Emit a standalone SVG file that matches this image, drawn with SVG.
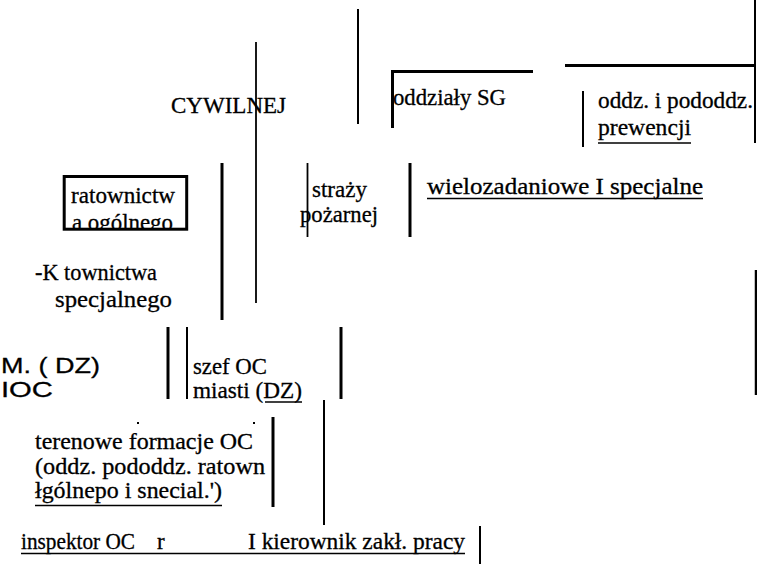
<svg xmlns="http://www.w3.org/2000/svg" width="757" height="564" viewBox="0 0 757 564">
<style>
.t{font-family:'Liberation Serif','Times New Roman',serif;font-size:23px;fill:#000;stroke:#000;stroke-width:0.3}
.s{font-family:'Liberation Sans',Arial,sans-serif;font-size:22.5px;fill:#000;stroke:#000;stroke-width:0.3}
.ln{stroke:#000;fill:none}
.u{stroke:#000;stroke-width:1.5}
</style>
<defs>
<clipPath id="boxclip"><rect x="65" y="178" width="122" height="50"/></clipPath>
</defs>
<rect width="757" height="564" fill="#fff"/>
<g id="connectors">
<line class="ln" stroke-width="2" x1="358" y1="9" x2="358" y2="124"/>
<line class="ln" stroke-width="1.8" x1="256" y1="42" x2="256" y2="303"/>
<line class="ln" stroke-width="3" x1="222" y1="163" x2="222" y2="320"/>
<line class="ln" stroke-width="1.8" x1="307.5" y1="163" x2="307.5" y2="237"/>
<line class="ln" stroke-width="2" x1="755" y1="0" x2="755" y2="143"/>
<line class="ln" stroke-width="3" x1="565" y1="65.5" x2="756" y2="65.5"/>
<polyline class="ln" stroke-width="3" points="392.5,128 392.5,71.5 533,71.5"/>
<line class="ln" stroke-width="2" x1="583" y1="91" x2="583" y2="147"/>
<line class="ln" stroke-width="3" x1="410" y1="163" x2="410" y2="237"/>
<line class="ln" stroke-width="3" x1="168" y1="327" x2="168" y2="399"/>
<line class="ln" stroke-width="2" x1="187" y1="327" x2="187" y2="399"/>
<line class="ln" stroke-width="3" x1="341" y1="327" x2="341" y2="399"/>
<line class="ln" stroke-width="2" x1="324" y1="400" x2="324" y2="525"/>
<line class="ln" stroke-width="3" x1="273" y1="417" x2="273" y2="507"/>
<line class="ln" stroke-width="2" x1="480" y1="526" x2="480" y2="564"/>
<line class="ln" stroke-width="2.5" x1="756" y1="270" x2="756" y2="395"/>
<rect x="137" y="422" width="2" height="2" fill="#000"/>
<rect x="253" y="422" width="2" height="2" fill="#000"/>
</g>
<g id="n-cywilnej"><text class="t" x="171" y="113" textLength="115" lengthAdjust="spacingAndGlyphs">CYWILNEJ</text></g>
<g id="n-oddzialy-sg"><text class="t" x="393" y="105" textLength="113" lengthAdjust="spacingAndGlyphs">oddziały SG</text></g>
<g id="n-prewencji">
<text class="t" x="598" y="108" textLength="155" lengthAdjust="spacingAndGlyphs">oddz. i pododdz.</text>
<text class="t" x="598" y="135" textLength="93" lengthAdjust="spacingAndGlyphs">prewencji</text>
<line class="u" x1="598" y1="143" x2="691" y2="143"/>
</g>
<g id="n-ratownictwa">
<g clip-path="url(#boxclip)">
<text class="t" x="71" y="203" textLength="104" lengthAdjust="spacingAndGlyphs">ratownictw</text>
<text class="t" x="72" y="229.5" textLength="101" lengthAdjust="spacingAndGlyphs">a ogólnego</text>
</g>
<rect x="64.2" y="176.5" width="122.5" height="52.7" fill="none" stroke="#000" stroke-width="3"/>
</g>
<g id="n-strazy">
<text class="t" x="312" y="197" textLength="55" lengthAdjust="spacingAndGlyphs">straży</text>
<text class="t" x="300" y="222" textLength="78" lengthAdjust="spacingAndGlyphs">pożarnej</text>
</g>
<g id="n-wielozadaniowe">
<text class="t" x="427" y="194" textLength="276" lengthAdjust="spacingAndGlyphs">wielozadaniowe I specjalne</text>
<line class="u" x1="427" y1="198.5" x2="703" y2="198.5"/>
</g>
<g id="n-specjalnego">
<text class="t" x="35" y="280" textLength="122" lengthAdjust="spacingAndGlyphs">-K townictwa</text>
<text class="t" x="55" y="307" textLength="117" lengthAdjust="spacingAndGlyphs">specjalnego</text>
</g>
<g id="n-m-ioc">
<text class="s" x="1" y="373" textLength="99" lengthAdjust="spacingAndGlyphs">M. ( DZ)</text>
<text class="s" x="1" y="397" textLength="52" lengthAdjust="spacingAndGlyphs">IOC</text>
</g>
<g id="n-szef-oc">
<text class="t" x="193" y="374" textLength="74" lengthAdjust="spacingAndGlyphs">szef OC</text>
<text class="t" x="193" y="397.5" textLength="109" lengthAdjust="spacingAndGlyphs">miasti (DZ)</text>
<line class="u" x1="265" y1="402" x2="302" y2="402"/>
</g>
<g id="n-terenowe">
<text class="t" x="35" y="449" textLength="218" lengthAdjust="spacingAndGlyphs">terenowe formacje OC</text>
<text class="t" x="35" y="474" textLength="230" lengthAdjust="spacingAndGlyphs">(oddz. pododdz. ratown</text>
<text class="t" x="35" y="497.5" textLength="187" lengthAdjust="spacingAndGlyphs">łgólnepo i snecial.')</text>
<line class="u" x1="35" y1="505.5" x2="222" y2="505.5"/>
</g>
<g id="n-inspektor">
<text class="t" y="548.5"><tspan x="21" textLength="114" lengthAdjust="spacingAndGlyphs">inspektor OC</tspan><tspan x="157">r</tspan><tspan x="248" textLength="217" lengthAdjust="spacingAndGlyphs">I kierownik zakł. pracy</tspan></text>
<line class="u" x1="21" y1="553.5" x2="465" y2="553.5"/>
</g>
</svg>
